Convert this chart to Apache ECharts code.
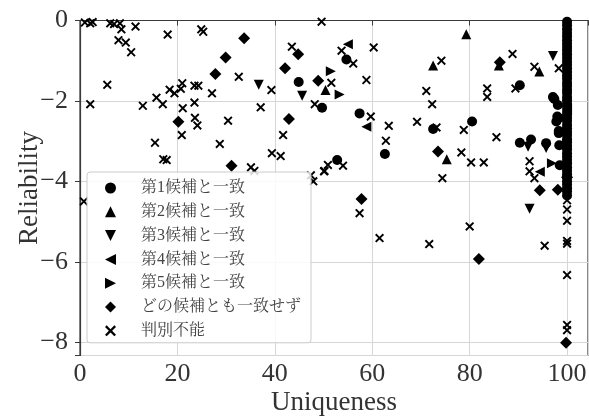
<!DOCTYPE html>
<html><head><meta charset="utf-8">
<script src="https://cdn.jsdelivr.net/npm/echarts@6/dist/echarts.min.js"></script>
<style>html,body{margin:0;padding:0;background:#fff}#c{width:589px;height:417px}</style>
</head><body><div id="c"></div>
<script>
const seriesNames = ['第1候補と一致','第2候補と一致','第3候補と一致','第4候補と一致','第5候補と一致','どの候補とも一致せず','判別不能'];
const xTicks = [0,20,40,60,80,100];
const yTicks = [-8,-6,-4,-2,0];

const cand1 = [[44.9,-1.53],[49.7,-2.17],[54.7,-0.97],[57.4,-2.31],[62.6,-3.32],[72.5,-2.70],[80.5,-2.51],[52.8,-3.47],[90.3,-1.61],[90.3,-3.04],[92.6,-2.96],[95.7,-3.05],
 [97.1,-1.90],[97.4,-1.95],[98.1,-2.10],[98.0,-2.39],[97.8,-2.51],[98.3,-2.43],[98.3,-2.75],[98.3,-2.80],[98.4,-3.1],[98.5,-3.6],
 [100,-0.03],[100,-0.12],[100,-0.22],[100,-0.31],[100,-0.40],[100,-0.49],[100,-0.58],[100,-0.66],[100,-0.75],[100,-0.84],[100,-0.93],[100,-1.02],[100,-1.10],[100,-1.19],[100,-1.28],[100,-1.37],[100,-1.45],[100,-1.55],[100,-1.63],[100,-1.72],[100,-1.80],[100,-1.90],[100,-1.98],[100,-2.07],[100,-2.15],[100,-2.25],[100,-2.33],[100,-2.42],[100,-2.50],[100,-2.60],[100,-2.68],[100,-2.77],[100,-2.85],[100,-2.95],[100,-3.03],[100,-3.12],[100,-3.20],[100,-3.30],[100,-3.38],[100,-3.47],[100,-3.55],[100,-3.65],[100,-3.73],[100,-3.82],[100,-3.90],[100,-4.00],[100,-4.08],[100,-4.17],[100,-4.25],[100,-4.35]];
const cand2 = [[79.3,-0.34],[72.5,-1.12],[94.3,-1.27],[50.4,-1.73],[75.3,-3.45],[86.0,-1.12],[100,-0.6],[100,-2.9]];
const cand3 = [[36.7,-1.60],[45.6,-1.87],[97.1,-0.88],[92.3,-4.68],[92.0,-3.14],[95.7,-3.17],[100,-1.4]];
const cand4 = [[55.0,-0.59],[58.8,-2.64],[94.4,-3.76],[100,-2.2]];
const cand5 = [[51.5,-1.26],[53.3,-1.84],[96.9,-3.55],[100,-3.1]];
const noMatch = [[33.7,-0.44],[29.9,-0.92],[27.8,-1.33],[20.2,-2.52],[31.1,-3.61],[42.1,-1.19],[44.8,-0.84],[48.9,-1.50],[42.9,-2.45],[73.5,-3.26],[94.4,-4.22],[57.8,-4.44],[81.9,-5.93],[99.8,-8.01],[86.2,-1.04],[98.1,-4.21],[100,-3.9]];
const unknown = [[1.0,-0.05],[2.1,-0.07],[2.6,-0.04],[6.2,-0.07],[7.0,-0.09],[8.2,-0.07],[8.5,-0.22],[11.4,-0.15],[7.9,-0.49],[9.4,-0.55],[10.5,-0.79],
 [18.0,-0.35],[24.9,-0.22],[25.3,-0.28],[32.6,-1.40],[5.6,-1.60],[2.1,-2.08],[12.9,-2.12],[15.7,-1.92],[17.0,-2.08],[18.4,-1.72],[19.4,-1.81],[21.0,-1.56],[20.7,-1.70],[23.5,-1.62],[24.3,-1.62],[27.1,-1.81],[21.1,-2.18],[23.5,-2.04],[23.6,-2.42],[24.1,-2.61],[30.4,-2.49],[20.9,-2.85],[28.7,-3.07],[15.4,-3.04],[17.1,-3.45],[17.8,-3.47],[35.1,-3.65],[35.8,-3.74],[39.4,-3.30],[41.2,-3.37],[41.7,-2.85],[37.1,-2.16],[39.3,-1.73],[43.5,-0.65],[49.6,-0.03],[50.2,-3.74],[0.8,-4.50],[47.4,-3.85],[47.9,-4.00],
 [48.2,-2.08],[59.7,-2.39],[53.7,-0.75],[56.1,-1.07],[60.3,-0.67],[58.8,-1.48],[51.6,-1.55],[63.4,-2.62],[62.8,-2.99],[69.2,-2.52],[73.2,-2.66],[71.1,-1.75],[72.3,-2.08],[74.2,-1.00],[78.8,-2.72],[78.3,-3.28],[80.3,-3.53],[82.9,-3.53],[74.4,-3.92],[85.5,-2.90],[83.6,-1.69],[83.6,-1.90],[88.8,-0.83],[89.4,-1.69],[93.3,-1.15],[98.3,-1.19],[50.9,-3.59],[50.1,-3.75],[54.0,-3.61],[92.3,-3.50],[92.3,-3.75],[93.3,-3.92],[57.4,-4.79],[80.0,-5.12],[61.5,-5.41],[71.7,-5.56],[95.4,-5.60],
 [100,-0.30],[100,-1.00],[100,-3.60],[100,-4.47],[100,-4.70],[100,-4.98],[100,-5.48],[100,-5.55],[100,-6.33],[100,-7.57],[100,-7.70]];

const X_PATH = 'path://M0,1.5L1.5,0L5,3.5L8.5,0L10,1.5L6.5,5L10,8.5L8.5,10L5,6.5L1.5,10L0,8.5L3.5,5Z';
const TRI_UP = 'path://M5,0L10,10L0,10Z';
const TRI_DOWN = 'path://M0,0L10,0L5,10Z';
const TRI_LEFT = 'path://M10,0L10,10L0,5Z';
const TRI_RIGHT = 'path://M0,0L10,5L0,10Z';
const DIAMOND = 'path://M5,0L10,5L5,10L0,5Z';
const serif = "'Liberation Serif','Times New Roman',serif";
const jp = "'Liberation Serif','Noto Serif CJK JP','Noto Sans CJK JP',serif";
const minus = v => String(v).replace('-', '\u2212');

const defs = [
  {data: cand1, symbol: 'circle', icon: 'circle', size: 10},
  {data: cand2, symbol: TRI_UP, icon: TRI_UP, size: 10},
  {data: cand3, symbol: TRI_DOWN, icon: TRI_DOWN, size: 10},
  {data: cand4, symbol: TRI_LEFT, icon: TRI_LEFT, size: 10},
  {data: cand5, symbol: TRI_RIGHT, icon: TRI_RIGHT, size: 10},
  {data: noMatch, symbol: DIAMOND, icon: DIAMOND, size: 12},
  {data: unknown, symbol: X_PATH, icon: X_PATH, size: 9}
];

const chart = echarts.init(document.getElementById('c'), null, {renderer: 'canvas'});
chart.setOption({
  animation: false,
  backgroundColor: '#fff',
  grid: {left: 80, top: 20.5, right: 1, bottom: 61.5, containLabel: false, outerBoundsMode: 'none',
    show: true, borderColor: '#3a3a3a', borderWidth: 1.2, backgroundColor: 'transparent'},
  legend: {
    orient: 'vertical', left: 87, top: 172,
    padding: [7, 10, 3, 18], itemGap: 5.8, itemWidth: 11, itemHeight: 11,
    backgroundColor: 'rgba(255,255,255,0.85)', borderColor: '#cccccc', borderWidth: 1, borderRadius: 3,
    textStyle: {fontFamily: jp, fontSize: 16, color: '#444', lineHeight: 18, padding: [0, 0, 0, 20]},
    data: seriesNames.map((n, i) => ({name: n, icon: defs[i].icon}))
  },
  xAxis: {
    type: 'value', min: 0, max: 104.3, interval: 20,
    name: 'Uniqueness', nameLocation: 'middle', nameGap: 34, nameMoveOverlap: false,
    nameTextStyle: {fontFamily: serif, fontSize: 27, color: '#333'},
    axisLine: {show: true, lineStyle: {color: '#3a3a3a', width: 1.2}},
    axisTick: {show: true, length: 5, lineStyle: {color: '#3a3a3a'}},
    axisLabel: {fontFamily: serif, fontSize: 26, color: '#333', margin: 6,
      formatter: v => xTicks.includes(v) ? minus(v) : ''},
    splitLine: {show: true, lineStyle: {color: '#d6d6d6', width: 1}}
  },
  yAxis: {
    type: 'value', min: -8.33, max: 0, splitNumber: 4,
    name: 'Reliability', nameLocation: 'middle', nameGap: 37, nameRotate: 90, nameMoveOverlap: false,
    nameTextStyle: {fontFamily: serif, fontSize: 27, color: '#333'},
    axisLine: {show: true, lineStyle: {color: '#3a3a3a', width: 1.2}},
    axisTick: {show: true, length: 5, lineStyle: {color: '#3a3a3a'}},
    axisLabel: {fontFamily: serif, fontSize: 26, color: '#333', margin: 12,
      formatter: v => yTicks.includes(v) ? minus(v) : ''},
    splitLine: {show: true, lineStyle: {color: '#d6d6d6', width: 1}}
  },
  series: defs.map((d, i) => ({
    type: 'scatter', name: seriesNames[i], data: d.data,
    symbol: d.symbol, symbolSize: d.size,
    itemStyle: {color: '#000', opacity: 1},
    emphasis: {disabled: true}
  }))
});
</script></body></html>
